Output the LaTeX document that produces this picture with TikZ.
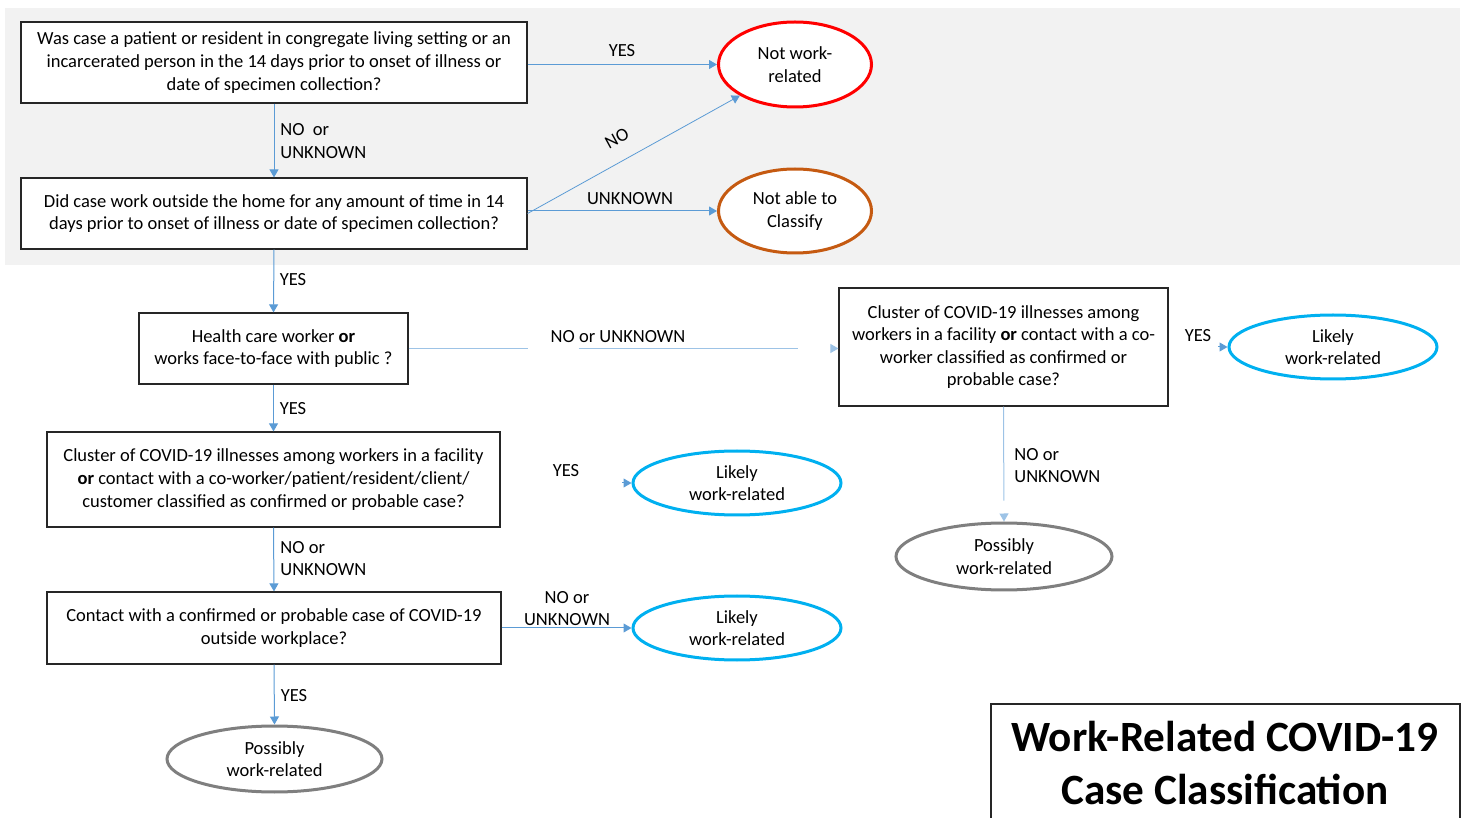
\documentclass[tikz,border=0pt]{standalone}
\usepackage{fontspec}
\setmainfont{Carlito}
\usetikzlibrary{shapes.geometric,arrows.meta}
\definecolor{bgc}{HTML}{F2F2F2}
\definecolor{arrc}{HTML}{5B9BD5}
\definecolor{arrl}{HTML}{9DC3E6}
\definecolor{redc}{HTML}{FF0000}
\definecolor{orgc}{HTML}{C55A11}
\definecolor{bluc}{HTML}{00B0F0}
\definecolor{gryc}{HTML}{7F7F7F}
\newcommand{\fs}{\fontsize{9.25}{11.3}\selectfont}
\tikzset{
  qbox/.style={draw=black!85, line width=0.6pt, fill=white, align=center, font=\fs, inner sep=0pt},
  oval/.style={ellipse, line width=1.5pt, fill=white, align=center, font=\fs, inner sep=0pt},
  arr/.style={draw=arrc, line width=0.5pt, -{Triangle[width=4.5pt,length=4pt]}},
  lbl/.style={font=\fs, inner sep=0pt, align=left},
}
\begin{document}
\begin{tikzpicture}[x=0.5pt,y=-0.5pt]
\useasboundingbox (0,0) rectangle (1464,818);
\fill[bgc] (5,8) rectangle (1460,265);

% question boxes
\node[qbox, minimum width=253pt, minimum height=40.5pt] (b1) at (274,62.5)
  {Was case a patient or resident in congregate living setting or an\\incarcerated person in the 14 days prior to onset of illness or\\date of specimen collection?};
\node[qbox, minimum width=253pt, minimum height=35.5pt] (b2) at (274,213.5)
  {Did case work outside the home for any amount of time in 14\\days prior to onset of illness or date of specimen collection?};
\node[qbox, minimum width=134.5pt, minimum height=35.5pt] (b3) at (273.5,348.5)
  {Health care worker \textbf{or}\\works face-to-face with public ?};
\node[qbox, minimum width=226.5pt, minimum height=47.5pt] (b4) at (273.5,479.5)
  {Cluster of COVID-19 illnesses among workers in a facility\\\textbf{or} contact with a co-worker/patient/resident/client/\\customer classified as confirmed or probable case?};
\node[qbox, minimum width=227pt, minimum height=36pt] (b5) at (274,628)
  {Contact with a confirmed or probable case of COVID-19\\outside workplace?};
\node[qbox, minimum width=164.5pt, minimum height=59pt] (b6) at (1003.5,347)
  {Cluster of COVID-19 illnesses among\\workers in a facility \textbf{or} contact with a co-\\worker classified as confirmed or\\probable case?};

% outcome ovals
\node[oval, draw=redc, minimum width=76.5pt, minimum height=42.5pt] (nwr) at (795,64.5) {Not work-\\related};
\node[oval, draw=orgc, minimum width=76.5pt, minimum height=42pt] (nac) at (795,211) {Not able to\\Classify};
\node[oval, draw=bluc, minimum width=104pt, minimum height=32pt] (lk1) at (737,483) {Likely\\work-related};
\node[oval, draw=bluc, minimum width=104pt, minimum height=32pt] (lk2) at (737,628) {Likely\\work-related};
\node[oval, draw=bluc, minimum width=104pt, minimum height=32pt] (lk3) at (1333,347) {Likely\\work-related};
\node[oval, draw=gryc, minimum width=107.5pt, minimum height=33pt] (ps1) at (274.5,759) {Possibly\\work-related};
\node[oval, draw=gryc, minimum width=108pt, minimum height=33.5pt] (ps2) at (1004,556.5) {Possibly\\work-related};

% connectors
\draw[arr] (b1.east |- nwr.west) -- (nwr.west);
\draw[arr] (b1.south) -- (b2.north);
\draw[arr, line width=0.4pt] (b2.east) -- (nwr.south west);
\draw[arr] (b2.east |- nac.west) -- (nac.west);
\draw[arr] (b2.south) -- (b3.north);
\draw[arr, draw=arrl, dash pattern=on 59.5pt off 25.5pt on 109.5pt off 30pt] (b3.east) -- (b3.east -| b6.west);
\draw[arr] (b3.south) -- (b4.north);
\coordinate (y1) at (622,483);
\draw[arr] (y1) -- (lk1.west);
\draw[arr] (b4.south) -- (b5.north);
\draw[arr] (b5.east) -- (lk2.west);
\draw[arr] (b5.south) -- (ps1.north);
\coordinate (y2) at (1218,347);
\draw[arr] (y2) -- (lk3.west);
\draw[arr, draw=arrl, dash pattern=on 47pt off 30pt] (b6.south) -- (ps2.north);

% labels
\node[lbl] (l1) at (622,51) {YES};
\node[lbl, anchor=west] (l2) at (280,141) {NO\ \ or\\UNKNOWN};
\node[lbl, rotate=28.6] (l3) at (617,138) {NO};
\node[lbl] (l4) at (630,199) {UNKNOWN};
\node[lbl] (l5) at (293,280) {YES};
\node[lbl] (l6) at (618,337) {NO or UNKNOWN};
\node[lbl] (l7) at (293,409) {YES};
\node[lbl] (l8) at (566,471) {YES};
\node[lbl] (l9) at (1198,336) {YES};
\node[lbl, anchor=west] (l10) at (1014,465.5) {NO or\\UNKNOWN};
\node[lbl, anchor=west] (l11) at (280,558.5) {NO or\\UNKNOWN};
\node[lbl, align=center] (l12) at (567,608.5) {NO or\\UNKNOWN};
\node[lbl] (l13) at (294,696) {YES};

% title
\draw[black!85, line width=0.6pt] (991,820) -- (991,704) -- (1460,704) -- (1460,820);
\node[font=\fontsize{21.6}{26.5}\selectfont\bfseries, align=center, inner sep=0pt] (title) at (1225,763)
  {Work-Related COVID-19\\Case Classification};
\end{tikzpicture}
\end{document}
